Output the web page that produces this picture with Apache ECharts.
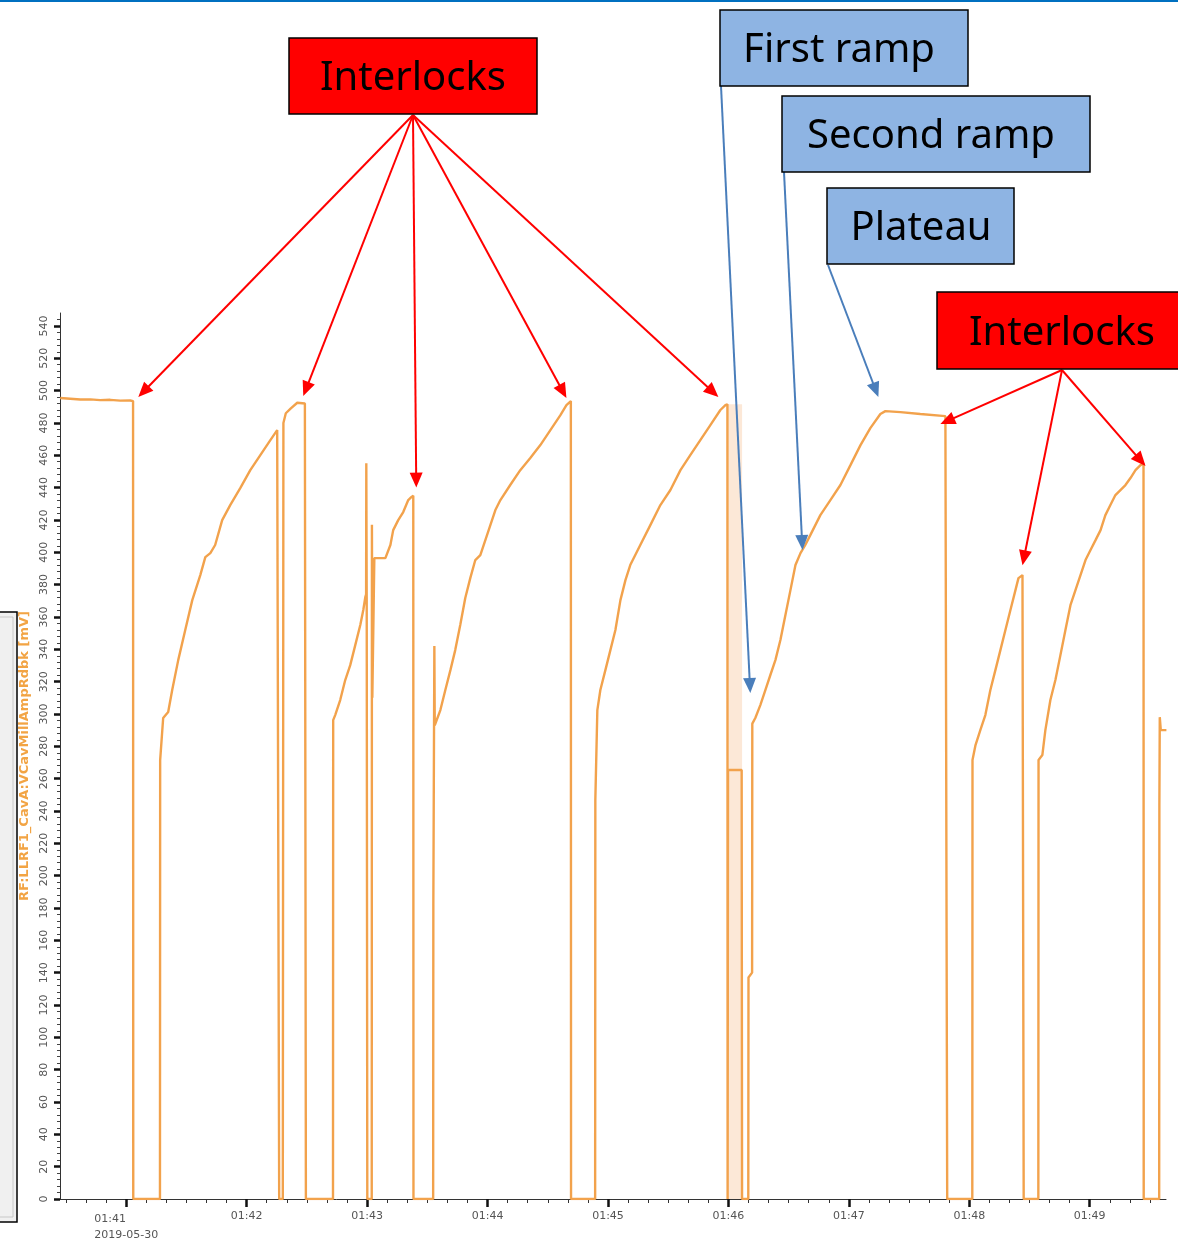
<!DOCTYPE html>
<html>
<head>
<meta charset="utf-8">
<script src="https://cdn.jsdelivr.net/npm/echarts@6/dist/echarts.min.js"></script>
<style>
html,body{margin:0;padding:0;background:#fff;}
#chart{width:1178px;height:1243px;}
</style>
</head>
<body>
<div id="chart"></div>
<script>
// ---- data (x: seconds after 01:40:00 on 2019-05-30, y: mV) ----
const timeSec = [
  27.1, 32.1, 37.1, 42.1, 47.0, 52.0, 57.0, 62.0, 63.4, 63.5,
  76.8, 76.9, 78.4, 80.9, 82.9, 85.9, 89.4, 92.9, 96.9, 99.4, 101.9, 104.3, 107.8, 111.8, 116.8, 121.8, 126.8, 131.8, 135.2, 136.1, 136.2,
  138.0, 138.3, 139.5, 142.0, 145.2, 149.0, 149.5,
  163.0, 163.1, 164.1, 166.6, 169.1, 171.6, 174.1, 176.6, 178.1, 179.1, 179.5, 179.6, 179.8, 180.1,
  182.3, 182.4, 182.6, 183.4, 183.6, 189.1, 191.6, 193.0, 195.5, 198.0, 200.5, 202.0, 203.0, 203.1,
  212.9, 213.0, 213.4, 213.5, 213.7, 216.5, 219.0, 221.5, 223.9, 226.4, 228.9, 231.4, 233.9, 236.4, 238.9, 241.4, 243.9, 246.4, 251.3, 256.3, 261.3, 266.3, 271.3, 276.3, 279.3, 281.5, 281.6,
  293.6, 293.7, 294.7, 296.2, 298.7, 301.2, 303.7, 306.2, 308.7, 311.1, 313.6, 316.1, 321.1, 326.1, 331.1, 336.1, 341.0, 346.0, 351.0, 356.0, 358.5, 359.5, 359.6, 359.8, 366.6, 366.8,
  369.9, 370.0, 371.8, 371.9, 373.4, 375.9, 378.4, 380.9, 383.4, 385.9, 388.4, 390.9, 393.4, 395.9, 398.3, 400.8, 403.3, 405.8, 410.8, 415.8, 420.8, 425.8, 430.7, 435.7, 438.2, 445.7, 455.6, 468.1, 468.9, 469.0,
  481.5, 481.6, 483.1, 485.5, 488.0, 490.5, 493.0, 495.5, 498.0, 500.5, 503.0, 504.5, 506.5, 507.0, 507.1,
  514.4, 514.5, 516.4, 517.9, 520.4, 522.9, 525.4, 527.9, 530.4, 532.9, 535.4, 537.9, 540.4, 542.9, 545.4, 547.8, 550.3, 552.8, 555.3, 557.8, 560.3, 562.8, 565.3, 566.8, 566.9,
  574.6, 574.7, 574.9, 575.4, 578.2
];
const ampMv = [
  495.4, 495.0, 494.5, 494.6, 494.1, 494.3, 493.8, 493.9, 493.5, 0,
  0, 271.5, 297.5, 301.2, 314.8, 333.3, 351.9, 370.4, 385.9, 397.0, 399.5, 404.5, 419.9, 429.2, 439.7, 450.8, 460.1, 469.4, 475.6, 476.0, 0,
  0, 480.0, 486.0, 489.0, 492.5, 492.0, 0,
  0, 296.2, 299.3, 308.6, 321.0, 330.2, 342.6, 355.0, 364.3, 372.3, 374.0, 455.0, 372.0, 0,
  0, 417.0, 310.0, 310.0, 396.4, 396.4, 404.5, 413.7, 419.9, 424.9, 432.3, 434.1, 435.0, 0,
  0, 182.0, 182.0, 342.0, 293.0, 302.4, 315.0, 327.1, 339.5, 355.0, 371.7, 384.0, 395.2, 398.3, 407.5, 416.8, 426.1, 432.3, 441.6, 450.8, 458.3, 466.3, 475.6, 484.8, 491.0, 493.5, 0,
  0, 246.8, 302.4, 314.8, 327.1, 339.5, 351.9, 370.4, 382.8, 392.1, 398.3, 404.5, 416.8, 429.2, 438.5, 450.8, 460.1, 469.4, 478.7, 488.0, 491.0, 491.5, 0, 265.3, 265.3, 0,
  0, 137.0, 140.0, 294.0, 297.5, 305.5, 314.8, 324.1, 333.3, 345.7, 361.2, 376.6, 392.1, 399.5, 404.5, 410.6, 416.8, 423.0, 432.3, 441.6, 453.9, 466.3, 476.8, 485.5, 487.3, 486.7, 485.5, 484.2, 484.0, 0,
  0, 271.5, 280.8, 290.0, 299.3, 314.8, 327.1, 339.5, 351.9, 364.3, 376.6, 384.0, 385.9, 386.0, 0,
  0, 271.5, 274.6, 290.0, 308.6, 321.0, 336.4, 351.9, 367.3, 376.6, 385.9, 395.2, 401.4, 407.5, 413.7, 423.0, 429.2, 435.4, 438.5, 441.6, 445.9, 450.8, 453.9, 455.0, 0,
  0, 243.7, 298.0, 290.0, 290.0
];
// rapid-switching envelope around 01:46 : [start s, end s, top mV]
const envelope = [359.6, 366.8, 491.5];

const xTickSeconds = [60, 120, 180, 240, 300, 360, 420, 480, 540];
const xTickLabels = ['01:41', '01:42', '01:43', '01:44', '01:45', '01:46', '01:47', '01:48', '01:49'];
const dateLabel = '2019-05-30';
const yTickValues = [0,20,40,60,80,100,120,140,160,180,200,220,240,260,280,300,320,340,360,380,400,420,440,460,480,500,520,540];
const yAxisName = 'RF:LLRF1_CavA:VCavMillAmpRdbk [mV]';

// annotations: arrow targets (data coords)
const interlockTargetsA = [[66.0, 496], [148.2, 496.6], [204.5, 440], [279.3, 495.4], [355.0, 496]];
const interlockTargetsB = [[465.6, 479.3], [506.5, 392], [567.8, 453.3]];
const firstRampTarget = [370.9, 313];
const secondRampTarget = [396.9, 401.4];
const plateauTarget = [434.7, 496];

// ---- build ----
const X_MIN = 27, X_MAX = 578, Y_MIN = 0, Y_MAX = 548;
const minorX = [];
for (let s = 30; s < X_MAX; s += 10) if (s % 60 !== 0) minorX.push(s);
const minorY = [];
for (let v = 4; v < Y_MAX; v += 4) if (v % 20 !== 0) minorY.push(v);

const seriesData = timeSec.map((t, i) => [t, ampMv[i]]);

const chart = echarts.init(document.getElementById('chart'), null, {renderer: 'canvas'});
const labelFont = 'DejaVu Sans';

chart.setOption({
  animation: false,
  backgroundColor: '#ffffff',
  grid: {left: 60, right: 12, top: 313, bottom: 44, containLabel: false},
  xAxis: [{
    type: 'value', min: X_MIN, max: X_MAX,
    axisLine: {show: true, onZero: false, lineStyle: {color: '#333', width: 1}},
    axisTick: {show: true, customValues: xTickSeconds, length: 8, lineStyle: {color: '#111', width: 2.5}},
    axisLabel: {
      show: true, customValues: xTickSeconds, margin: 12,
      color: '#555', fontSize: 11, fontFamily: labelFont,
      formatter: function (v) {
        const i = xTickSeconds.indexOf(v);
        if (i === 0) return '{l|' + xTickLabels[i] + '}\n{l|' + dateLabel + '}';
        return i >= 0 ? xTickLabels[i] : '';
      },
      rich: {l: {align: 'left', color: '#555', fontSize: 11, fontFamily: labelFont, lineHeight: 16}}
    },
    splitLine: {show: false}
  }, {
    type: 'value', min: X_MIN, max: X_MAX, position: 'bottom',
    axisLine: {show: false},
    axisTick: {show: true, customValues: minorX, length: 4, lineStyle: {color: '#333', width: 1}},
    axisLabel: {show: false},
    splitLine: {show: false}
  }],
  yAxis: [{
    type: 'value', min: Y_MIN, max: Y_MAX,
    name: yAxisName, nameLocation: 'middle', nameRotate: 90, nameGap: 27,
    nameTextStyle: {color: '#F2A444', fontSize: 13, fontWeight: 'bold', fontFamily: labelFont},
    axisLine: {show: true, onZero: false, lineStyle: {color: '#333', width: 1}},
    axisTick: {show: true, customValues: yTickValues, length: 6, lineStyle: {color: '#111', width: 2.5}},
    axisLabel: {show: true, customValues: yTickValues, rotate: 90, margin: 10, color: '#555', fontSize: 11, fontFamily: labelFont},
    splitLine: {show: false}
  }, {
    type: 'value', min: Y_MIN, max: Y_MAX, position: 'left',
    axisLine: {show: false},
    axisTick: {show: true, customValues: minorY, length: 3, lineStyle: {color: '#444', width: 1}},
    axisLabel: {show: false},
    splitLine: {show: false}
  }],
  series: [{
    type: 'line',
    xAxisIndex: 0, yAxisIndex: 0,
    data: seriesData,
    showSymbol: false,
    lineStyle: {color: '#F2A24C', width: 2.4},
    itemStyle: {color: '#F2A24C'},
    markArea: {
      silent: true,
      itemStyle: {color: 'rgba(247,190,140,0.35)'},
      data: [[{coord: [envelope[0], 0]}, {coord: [envelope[1], envelope[2]]}]]
    },
    z: 3
  }]
});

function px(pt) { return chart.convertToPixel({xAxisIndex: 0, yAxisIndex: 0}, pt); }

function arrow(x1, y1, x2, y2, color) {
  const dx = x2 - x1, dy = y2 - y1, L = Math.hypot(dx, dy);
  const ux = dx / L, uy = dy / L, hl = 15, hw = 13;
  const bx = x2 - ux * hl, by = y2 - uy * hl;
  const nx = -uy * hw / 2, ny = ux * hw / 2;
  return [
    {type: 'line', z: 100, silent: true, shape: {x1: x1, y1: y1, x2: bx + ux, y2: by + uy}, style: {stroke: color, lineWidth: 2}},
    {type: 'polygon', z: 101, silent: true, shape: {points: [[x2, y2], [bx + nx, by + ny], [bx - nx, by - ny]]}, style: {fill: color}}
  ];
}
function box(x, y, w, h, fill, text, tx) {
  return [
    {type: 'rect', z: 102, silent: true, shape: {x: x, y: y, width: w, height: h}, style: {fill: fill, stroke: '#000', lineWidth: 1.5}},
    {type: 'text', z: 103, silent: true, x: tx, y: y + h / 2 + 3,
     style: {text: text, fill: '#000', font: '40px "Noto Sans"', textAlign: 'center', textVerticalAlign: 'middle'}}
  ];
}

const RED = '#FF0000', BLUE = '#4A7EBB', BOXBLUE = '#8EB4E3';
let g = [];
// top rule
g.push({type: 'rect', z: 90, silent: true, shape: {x: 0, y: 0, width: 1178, height: 2}, style: {fill: '#0070C0'}});
// cut-off side panel
g.push({type: 'rect', z: 90, silent: true, shape: {x: -3, y: 612, width: 20, height: 610}, style: {fill: '#F0F0F0', stroke: '#000', lineWidth: 1.5}});
g.push({type: 'rect', z: 91, silent: true, shape: {x: -3, y: 617, width: 16, height: 600}, style: {fill: 'none', stroke: '#C8C8C8', lineWidth: 1}});

interlockTargetsA.forEach(p => { const q = px(p); g = g.concat(arrow(413, 115, q[0], q[1], RED)); });
interlockTargetsB.forEach(p => { const q = px(p); g = g.concat(arrow(1062, 370, q[0], q[1], RED)); });
let q = px(firstRampTarget); g = g.concat(arrow(721, 86, q[0], q[1], BLUE));
q = px(secondRampTarget); g = g.concat(arrow(784, 172, q[0], q[1], BLUE));
q = px(plateauTarget); g = g.concat(arrow(828, 265, q[0], q[1], BLUE));

g = g.concat(box(289, 38, 248, 76, RED, 'Interlocks', 413));
g = g.concat(box(720, 10, 248, 76, BOXBLUE, 'First ramp', 839));
g = g.concat(box(782, 96, 308, 76, BOXBLUE, 'Second ramp', 931));
g = g.concat(box(827, 188, 187, 76, BOXBLUE, 'Plateau', 921));
g = g.concat(box(937, 292, 250, 77, RED, 'Interlocks', 1062));

chart.setOption({graphic: {elements: g}});
</script>
</body>
</html>
